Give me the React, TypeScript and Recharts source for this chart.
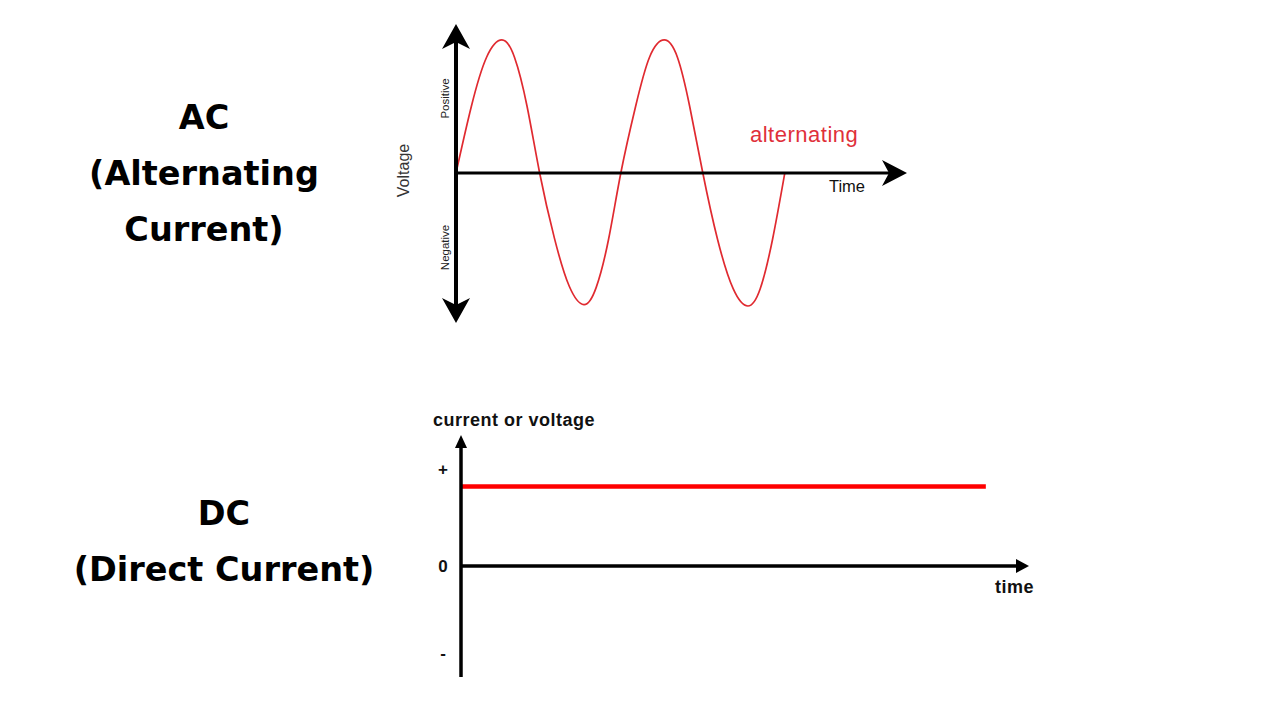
import { LineChart, Line, XAxis, YAxis, ReferenceLine } from 'recharts';

// AC sine (time in arbitrary units, voltage as fraction of peak)
const acTime = [0, 1.87, 3.73, 5.6, 7.13, 8.67, 10.2, 12.0, 13.8, 15.6, 17.1, 18.6, 20.1, 21.9, 23.6, 25.4, 27.0, 28.5, 30.1, 31.9, 33.8, 35.6, 37.1, 38.6, 40.1];
const acVoltage = [0, 0.5, 0.87, 1, 0.87, 0.5, 0, -0.49, -0.85, -0.99, -0.86, -0.5, 0, 0.5, 0.87, 1, 0.87, 0.5, 0, -0.5, -0.87, -1.0, -0.87, -0.5, 0];
const acTickValues = [0.56, -0.56];
const acTickLabels = ['Positive', 'Negative'];

// DC level
const dcTime = [0, 9.24];
const dcLevel = [0.82, 0.82];
const dcTickValues = [1, 0, -0.9];
const dcTickLabels = ['+', '0', '-'];

const acData = acTime.map((t, i) => ({ t, v: acVoltage[i] }));
const dcData = dcTime.map((t, i) => ({ t, v: dcLevel[i] }));

const ARIAL = '"Liberation Sans", Arial, sans-serif';
const TITLE_FONT = '"DejaVu Sans", sans-serif';

const AcVerticalAxis = (p: any) => {
  const x = p.x1;
  const top = Math.min(p.y1, p.y2);
  const bottom = Math.max(p.y1, p.y2);
  return (
    <g>
      <line x1={x} y1={top + 12} x2={x} y2={bottom - 12} stroke="#000" strokeWidth={4} />
      <polygon points={`${x},${top} ${x + 14},${top + 25} ${x},${top + 18} ${x - 14},${top + 25}`} fill="#000" />
      <polygon points={`${x},${bottom} ${x + 14},${bottom - 25} ${x},${bottom - 18} ${x - 14},${bottom - 25}`} fill="#000" />
    </g>
  );
};

const AcHorizontalAxis = (p: any) => {
  const y = p.y1;
  const left = Math.min(p.x1, p.x2);
  const right = Math.max(p.x1, p.x2);
  return (
    <g>
      <line x1={left} y1={y} x2={right - 12} y2={y} stroke="#000" strokeWidth={3} />
      <polygon points={`${right},${y} ${right - 25},${y - 13} ${right - 18},${y} ${right - 25},${y + 13}`} fill="#000" />
    </g>
  );
};

const DcVerticalAxis = (p: any) => {
  const x = p.x1;
  const top = Math.min(p.y1, p.y2);
  const bottom = Math.max(p.y1, p.y2);
  return (
    <g>
      <line x1={x} y1={top + 8} x2={x} y2={bottom} stroke="#000" strokeWidth={3.5} />
      <polygon points={`${x},${top} ${x + 6},${top + 13} ${x - 6},${top + 13}`} fill="#000" />
    </g>
  );
};

const DcHorizontalAxis = (p: any) => {
  const y = p.y1;
  const left = Math.min(p.x1, p.x2);
  const right = Math.max(p.x1, p.x2);
  return (
    <g>
      <line x1={left} y1={y} x2={right - 8} y2={y} stroke="#000" strokeWidth={3.5} />
      <polygon points={`${right},${y} ${right - 13},${y - 7} ${right - 13},${y + 7}`} fill="#000" />
    </g>
  );
};

const AcTick = (props: any) => {
  const { x, y, payload } = props;
  const idx = acTickValues.indexOf(payload.value);
  return (
    <text
      transform={`translate(${x},${y}) rotate(-90)`}
      textAnchor="middle"
      fontSize={11.5}
      fontFamily={ARIAL}
      fill="#222"
    >
      {acTickLabels[idx]}
    </text>
  );
};

const DcTick = (props: any) => {
  const { x, y, payload } = props;
  const idx = dcTickValues.indexOf(payload.value);
  return (
    <text x={x} y={y + 6} textAnchor="middle" fontSize={17} fontWeight={700} fontFamily={ARIAL} fill="#111">
      {dcTickLabels[idx]}
    </text>
  );
};

const titleStyle = (centerX: number, top: number): React.CSSProperties => ({
  position: 'absolute',
  left: centerX - 200,
  top,
  width: 400,
  textAlign: 'center',
  whiteSpace: 'nowrap',
  fontFamily: TITLE_FONT,
  fontWeight: 700,
  fontSize: 33.5,
  lineHeight: '56px',
  color: '#000',
});

export default function App() {
  return (
    <div style={{ position: 'absolute', left: 0, top: 0, width: 1280, height: 720, background: '#fff', overflow: 'hidden' }}>
      <div style={titleStyle(204, 90)}>
        AC<br />(Alternating<br />Current)
      </div>
      <div style={titleStyle(224, 486)}>
        DC<br />(Direct Current)
      </div>

      <div style={{ position: 'absolute', left: 0, top: 0 }}>
        <LineChart width={1280} height={360} data={acData} margin={{ top: 24, right: 373, bottom: 37, left: 396 }}>
          <XAxis type="number" dataKey="t" domain={[0, 55]} hide allowDataOverflow />
          <YAxis
            type="number"
            domain={[-1.128, 1.12]}
            allowDataOverflow
            width={60}
            ticks={acTickValues}
            axisLine={false}
            tickLine={false}
            tickSize={0}
            tickMargin={7}
            tick={<AcTick />}
            label={(lp: any) => {
              const vb = lp.viewBox;
              const cy = vb.y + vb.height / 2 - 3;
              return (
                <text
                  transform={`translate(${vb.x + 13},${cy}) rotate(-90)`}
                  textAnchor="middle"
                  fontSize={16}
                  fontFamily={ARIAL}
                  fill="#333"
                >
                  Voltage
                </text>
              );
            }}
          />
          <Line
            type="natural"
            dataKey="v"
            stroke="#e02a30"
            strokeWidth={1.7}
            dot={false}
            activeDot={false}
            isAnimationActive={false}
          />
          <ReferenceLine
            y={0}
            shape={AcHorizontalAxis}
            label={(lp: any) => {
              const vb = lp.viewBox;
              const end = vb.x + vb.width;
              return (
                <g fontFamily={ARIAL}>
                  <text x={end - 157} y={vb.y - 31} fontSize={22} letterSpacing={0.5} fill="#e0303a">
                    alternating
                  </text>
                  <text x={end - 42} y={vb.y + 19.5} textAnchor="end" fontSize={16.5} fill="#111">
                    Time
                  </text>
                </g>
              );
            }}
          />
          <ReferenceLine x={0} shape={AcVerticalAxis} />
        </LineChart>
      </div>

      <div style={{ position: 'absolute', left: 0, top: 360 }}>
        <LineChart width={1280} height={360} data={dcData} margin={{ top: 75, right: 251, bottom: 43, left: 421 }}>
          <XAxis type="number" dataKey="t" domain={[0, 10]} hide allowDataOverflow />
          <YAxis
            type="number"
            domain={[-1.144, 1.35]}
            allowDataOverflow
            width={40}
            ticks={dcTickValues}
            axisLine={false}
            tickLine={false}
            tickSize={0}
            tickMargin={18}
            tick={<DcTick />}
          />
          <Line
            type="linear"
            dataKey="v"
            stroke="#ff0000"
            strokeWidth={4.5}
            dot={false}
            activeDot={false}
            isAnimationActive={false}
          />
          <ReferenceLine
            y={0}
            shape={DcHorizontalAxis}
            label={(lp: any) => {
              const vb = lp.viewBox;
              return (
                <text
                  x={vb.x + vb.width + 5}
                  y={vb.y + 27}
                  textAnchor="end"
                  fontSize={18}
                  fontWeight={700}
                  letterSpacing={0.5}
                  fontFamily={ARIAL}
                  fill="#111"
                >
                  time
                </text>
              );
            }}
          />
          <ReferenceLine
            x={0}
            shape={DcVerticalAxis}
            label={(lp: any) => {
              const vb = lp.viewBox;
              return (
                <text
                  x={vb.x - 28}
                  y={vb.y - 9}
                  fontSize={18}
                  fontWeight={700}
                  letterSpacing={0.5}
                  fontFamily={ARIAL}
                  fill="#111"
                >
                  current or voltage
                </text>
              );
            }}
          />
        </LineChart>
      </div>
    </div>
  );
}
